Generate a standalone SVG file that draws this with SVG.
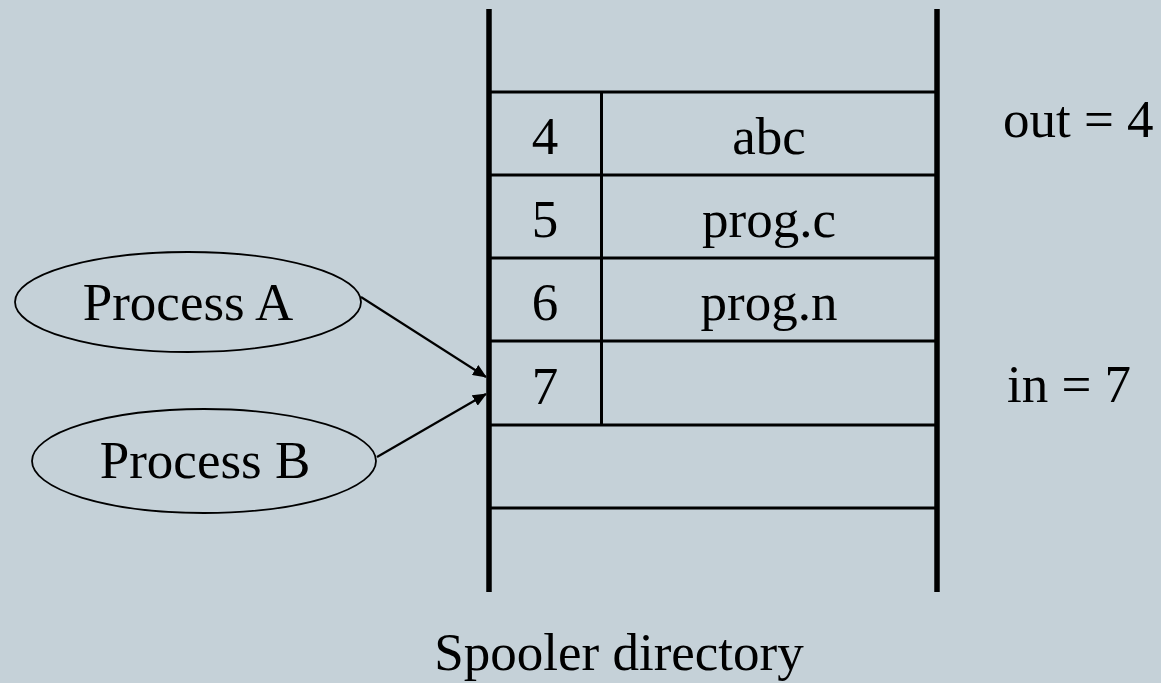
<svg xmlns="http://www.w3.org/2000/svg" width="1161" height="683" viewBox="0 0 1161 683">
<style>
text{font-family:"Liberation Serif","DejaVu Serif",serif;font-size:53px;fill:#000}
.c{text-anchor:middle}
.thick{stroke:#000;stroke-width:5.5;fill:none}
.thin{stroke:#000;stroke-width:3;fill:none}
.ell{stroke:#000;stroke-width:1.8;fill:none}
.conn{stroke:#000;stroke-width:2.2;fill:none}
</style>
<defs>
<marker id="ah" markerWidth="14" markerHeight="12" refX="13" refY="6" orient="auto" markerUnits="userSpaceOnUse">
<path d="M0,0 L14,6 L0,12 Z" fill="#000"/>
</marker>
</defs>
<rect width="1161" height="683" fill="#C5D1D8"/>
<g id="directory">
<line class="thin" x1="489" y1="92" x2="937" y2="92"/>
<line class="thin" x1="489" y1="175" x2="937" y2="175"/>
<line class="thin" x1="489" y1="258" x2="937" y2="258"/>
<line class="thin" x1="489" y1="341" x2="937" y2="341"/>
<line class="thin" x1="489" y1="425" x2="937" y2="425"/>
<line class="thin" x1="489" y1="508" x2="937" y2="508"/>
<line class="thin" x1="601.5" y1="92" x2="601.5" y2="425"/>
<line class="thick" x1="489" y1="9" x2="489" y2="592"/>
<line class="thick" x1="937" y1="9" x2="937" y2="592"/>
</g>
<g id="slot4"><text class="c" x="545" y="154">4</text><text class="c" x="769" y="154">abc</text></g>
<g id="slot5"><text class="c" x="545" y="237">5</text><text class="c" x="769" y="237">prog.c</text></g>
<g id="slot6"><text class="c" x="545" y="320">6</text><text class="c" x="769" y="320">prog.n</text></g>
<g id="slot7"><text class="c" x="545" y="404">7</text></g>
<g id="out"><text x="1003" y="137">out = 4</text></g>
<g id="in"><text x="1007" y="402">in = 7</text></g>
<g id="processA"><ellipse class="ell" cx="188" cy="302" rx="173" ry="50"/><text class="c" x="188" y="320">Process A</text></g>
<g id="processB"><ellipse class="ell" cx="204" cy="461" rx="172" ry="52"/><text class="c" x="205" y="478">Process B</text></g>
<g id="label"><text class="c" x="619" y="670">Spooler directory</text></g>
<g id="connectors">
<line class="conn" x1="361" y1="297" x2="486" y2="377" marker-end="url(#ah)"/>
<line class="conn" x1="377" y1="457" x2="486" y2="394" marker-end="url(#ah)"/>
</g>
</svg>
